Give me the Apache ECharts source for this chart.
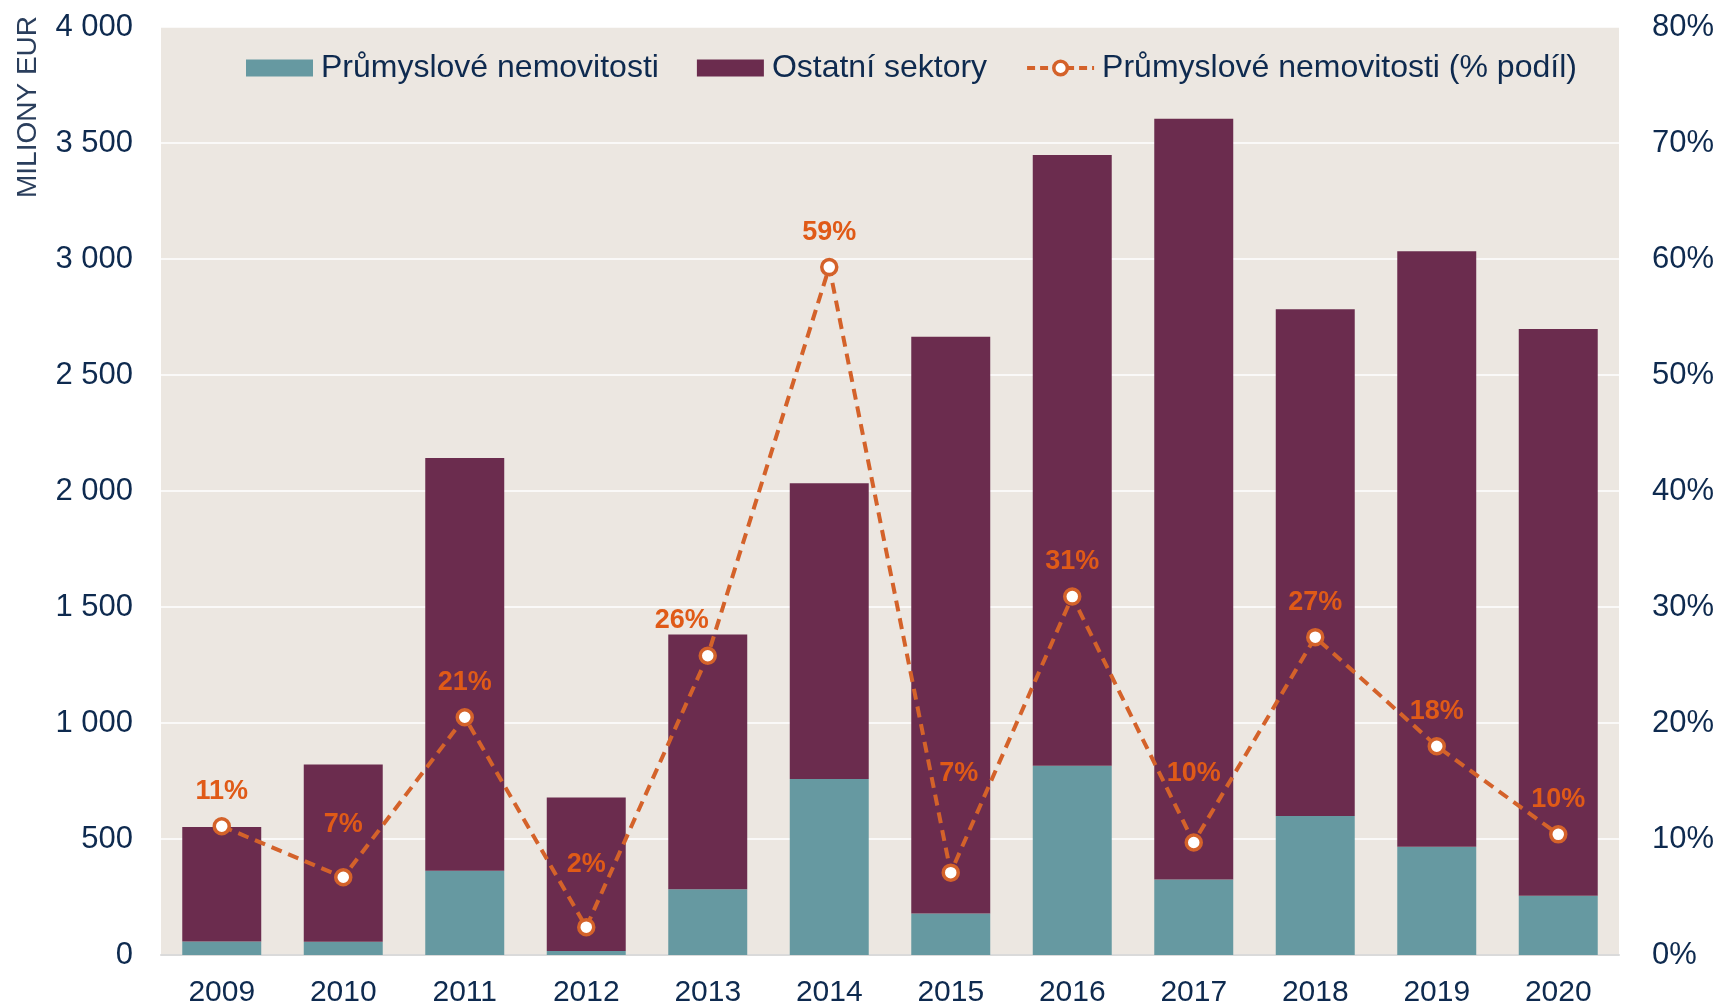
<!DOCTYPE html>
<html>
<head>
<meta charset="utf-8">
<script src="https://cdn.jsdelivr.net/npm/echarts@6/dist/echarts.min.js"></script>
<style>
html,body{margin:0;padding:0;background:#fff;}
#c{width:1721px;height:1006px;}
</style>
</head>
<body>
<div id="c"></div>
<script>
var years = ['2009','2010','2011','2012','2013','2014','2015','2016','2017','2018','2019','2020'];
var industrial = [58, 57, 363, 17, 283, 759, 179, 816, 325, 599, 467, 255];
var totals = [552, 821, 2142, 679, 1382, 2033, 2665, 3448, 3604, 2783, 3033, 2698];
var sharePct = [11.1, 6.7, 20.5, 2.4, 25.8, 59.3, 7.1, 30.9, 9.7, 27.4, 18.0, 10.4];
var shareLabels = ['11%','7%','21%','2%','26%','59%','7%','31%','10%','27%','18%','10%'];

var other = totals.map(function(t, i){ return t - industrial[i]; });

var labelOffsets = {1:[0,-18],3:[0,-28],4:[-26,0],6:[8,-64],8:[0,-34]};
var lineData = sharePct.map(function(v, i){
  var off = labelOffsets[i] || [0,0];
  return {value: v, label: {offset: off}};
});

var font = 'Liberation Sans, Arial, sans-serif';
var navy = '#0E2A4F';
var orange = '#D4622A';

var chart = echarts.init(document.getElementById('c'), null, {renderer:'canvas'});
chart.setOption({
  backgroundColor: '#ffffff',
  animation: false,
  grid: {left: 161, right: 102, top: 27, bottom: 51, show: true, backgroundColor: '#ECE7E1', borderWidth: 0,
    containLabel: false, outerBoundsMode: 'none'},
  legend: {
    top: 52, left: 246, padding: 0,
    itemWidth: 67, itemHeight: 17, itemGap: 38,
    textStyle: {fontFamily: font, fontSize: 32, color: navy, padding: [0,0,0,3]},
    data: [
      {name: 'Průmyslové nemovitosti', icon: 'rect'},
      {name: 'Ostatní sektory', icon: 'rect'},
      {name: 'Průmyslové nemovitosti (% podíl)',
        lineStyle: {width: 4, type: [8,5], color: orange},
        itemStyle: {color: '#ffffff', borderColor: orange, borderWidth: 3.5}}
    ]
  },
  graphic: [{
    type: 'text', left: 14, top: 16, rotation: Math.PI/2,
    style: {text: 'MILIONY EUR', fontFamily: font, fontSize: 28, fill: '#2A3E5C'}
  }],
  xAxis: {
    type: 'category', data: years,
    axisTick: {show: false},
    axisLine: {lineStyle: {color: '#DADADA', width: 2}},
    axisLabel: {fontFamily: font, fontSize: 30, color: navy, margin: 23}
  },
  yAxis: [{
    type: 'value', min: 0, max: 4000, interval: 500,
    axisLabel: {fontFamily: font, fontSize: 31, color: navy, margin: 28,
      formatter: function(v){ return String(v).replace(/\B(?=(\d{3})+(?!\d))/g, ' '); }},
    splitLine: {lineStyle: {color: '#ffffff', width: 1.5}},
    axisLine: {show: false}, axisTick: {show: false}
  },{
    type: 'value', min: 0, max: 80, interval: 10,
    axisLabel: {fontFamily: font, fontSize: 31, color: navy, margin: 33, formatter: '{value}%'},
    splitLine: {show: false}, axisLine: {show: false}, axisTick: {show: false}
  }],
  series: [{
    name: 'Průmyslové nemovitosti', type: 'bar', stack: 'a', data: industrial,
    barWidth: '65%', itemStyle: {color: '#6699A1'}
  },{
    name: 'Ostatní sektory', type: 'bar', stack: 'a', data: other,
    itemStyle: {color: '#6B2C4E'}
  },{
    name: 'Průmyslové nemovitosti (% podíl)', type: 'line', yAxisIndex: 1,
    data: lineData,
    symbol: 'circle', symbolSize: 15,
    itemStyle: {color: '#ffffff', borderColor: orange, borderWidth: 3.5},
    lineStyle: {color: orange, width: 4, type: [11,7]},
    label: {show: true, position: 'top', distance: 12, fontFamily: font, fontWeight: 'bold', fontSize: 27, color: '#E05A17',
      formatter: function(p){ return shareLabels[p.dataIndex]; }},
    z: 5
  }]
});
</script>
</body>
</html>
